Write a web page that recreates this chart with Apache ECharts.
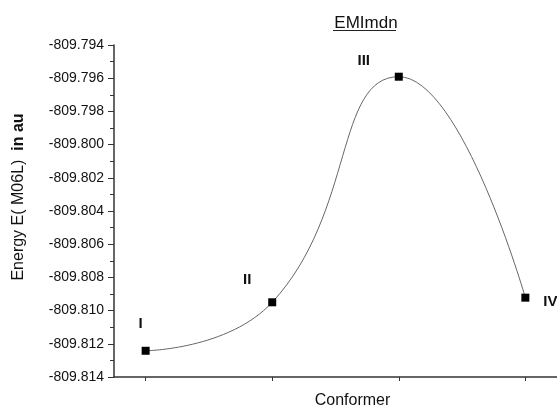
<!DOCTYPE html>
<html>
<head>
<meta charset="utf-8">
<script src="https://cdn.jsdelivr.net/npm/echarts@6/dist/echarts.min.js"></script>
<style>
  html, body { margin: 0; padding: 0; background: #fff; }
  #main { width: 557px; height: 408px; }
</style>
</head>
<body>
<div id="main"></div>
<script>
// conformer data
var conformers = [1, 2, 3, 4];
var labels = ['I', 'II', 'III', 'IV'];
var energy = [-809.81242, -809.8095, -809.79591, -809.80922];
var yTicks = [-809.814, -809.812, -809.810, -809.808, -809.806, -809.804, -809.802, -809.800, -809.798, -809.796, -809.794];

// label offsets per point (px)
var labelOffsets = [[-5, -27], [-25, -22], [-35, -16], [25, 4]];

var chart = echarts.init(document.getElementById('main'));

var points = conformers.map(function (c, i) {
    return {
        value: [c, energy[i]],
        label: { show: true, formatter: labels[i], position: 'inside', offset: labelOffsets[i] }
    };
});

var option = {
    animation: false,
    textStyle: { fontFamily: 'Liberation Sans, Arial, sans-serif' },
    title: {
        text: 'EMImdn',
        left: 361, top: 10, textAlign: 'center',
        textStyle: { fontSize: 17, fontWeight: 'normal', color: '#111' }
    },
    graphic: [{
        type: 'line',
        shape: { x1: 333, y1: 30.5, x2: 396, y2: 30.5 },
        style: { stroke: '#222', lineWidth: 1 }
    }],
    grid: { left: 114, right: 0, top: 45, bottom: 31, outerBoundsMode: 'none' },
    xAxis: {
        type: 'value',
        min: 0.75,
        max: 4.25,
        name: 'Conformer',
        nameLocation: 'middle',
        nameGap: 16,
        nameTextStyle: { fontSize: 16, color: '#111', padding: [0, 0, 0, 34] },
        axisLine: { lineStyle: { color: '#333', width: 1.5 } },
        axisTick: { show: true, customValues: conformers, length: 4, lineStyle: { color: '#333' } },
        axisLabel: { show: false },
        splitLine: { show: false }
    },
    yAxis: {
        type: 'value',
        min: yTicks[0],
        max: yTicks[yTicks.length - 1],
        interval: 0.002,
        name: '{n|Energy E( M06L) }{b| in au}',
        nameLocation: 'middle',
        nameRotate: 90,
        nameGap: 87,
        nameTextStyle: {
            padding: [0, 0, 0, 28],
            rich: {
                n: { fontSize: 16, color: '#111' },
                b: { fontSize: 16, color: '#111', fontWeight: 'bold' }
            }
        },
        axisLine: { show: true, lineStyle: { color: '#333', width: 1.5 } },
        axisTick: { show: true, length: 6, lineStyle: { color: '#333' } },
        minorTick: { show: true, splitNumber: 2, length: 4, lineStyle: { color: '#333' } },
        axisLabel: {
            fontSize: 14, color: '#111', margin: 10,
            formatter: function (v) { return v.toFixed(3); }
        },
        splitLine: { show: false }
    },
    series: [{
        type: 'line',
        data: points,
        smooth: 0.5,
        symbol: 'rect',
        symbolSize: 8,
        itemStyle: { color: '#000' },
        lineStyle: { color: '#666', width: 1 },
        label: { fontSize: 15, fontWeight: 'bold', color: '#111' }
    }]
};

chart.setOption(option);
</script>
</body>
</html>
